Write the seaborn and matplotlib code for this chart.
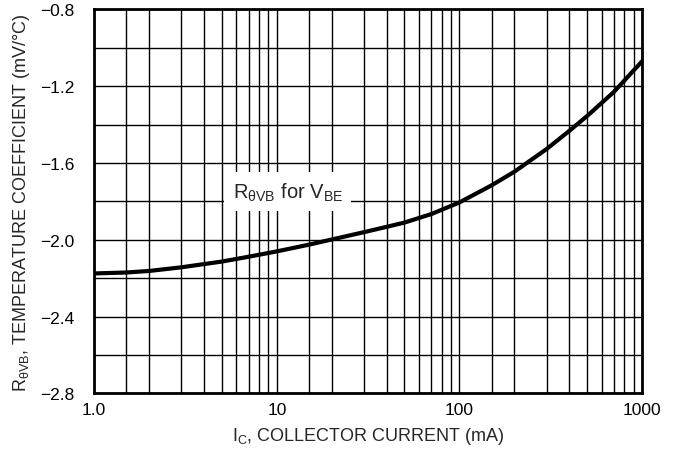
"""Temperature coefficient of V_BE versus collector current."""

import matplotlib
matplotlib.use("Agg")
import matplotlib.pyplot as plt
import numpy as np
import pandas as pd
import seaborn as sns
from matplotlib.ticker import FixedLocator, NullFormatter

# values
collector_current_ma = [1, 1.5, 2, 3, 5, 7, 10, 15, 20, 30, 40, 50, 70,
                        100, 150, 200, 300, 400, 500, 700, 1000]
temp_coeff_mv = [-2.175, -2.170, -2.162, -2.143, -2.113, -2.088, -2.060,
                 -2.025, -1.998, -1.960, -1.932, -1.910, -1.866, -1.805,
                 -1.716, -1.645, -1.527, -1.432, -1.355, -1.230, -1.070]

x_tick_values = [1, 10, 100, 1000]
x_tick_labels = ["1.0", "10", "100", "1000"]
y_tick_values = [-2.8, -2.4, -2.0, -1.6, -1.2, -0.8]
y_tick_labels = ["\u22122.8", "\u22122.4", "\u22122.0", "\u22121.6", "\u22121.2", "\u22120.8"]
grid_mantissas = [1, 1.5, 2, 3, 4, 5, 6, 7, 8, 9]

sns.set_style("white")
plt.rcParams["font.family"] = ["Liberation Sans Narrow", "Liberation Sans", "DejaVu Sans"]
plt.rcParams["mathtext.fontset"] = "custom"
plt.rcParams["mathtext.rm"] = "Liberation Sans"
plt.rcParams["mathtext.it"] = "Liberation Sans"

df = pd.DataFrame({"ic": collector_current_ma, "tc": temp_coeff_mv})

figure, ax = plt.subplots(figsize=(6.73, 4.56), dpi=100)
figure.subplots_adjust(left=0.140, right=0.954, bottom=0.135, top=0.977)

sns.lineplot(data=df, x="ic", y="tc", color="black", linewidth=3.0, ax=ax, zorder=3)

ax.set_xscale("log")
ax.set_xlim(1, 1000)
ax.set_ylim(-2.8, -0.8)

# grid lines every 1-2-3...9 per decade, and every 0.2 mV/°C
vgrid = [m * 10 ** d for d in range(3) for m in grid_mantissas] + [1000]
ax.xaxis.set_major_locator(FixedLocator(x_tick_values))
ax.set_xticklabels(x_tick_labels)
ax.xaxis.set_minor_locator(FixedLocator(vgrid))
ax.xaxis.set_minor_formatter(NullFormatter())
ax.set_yticks(y_tick_values)
ax.set_yticklabels(y_tick_labels)
ax.yaxis.set_minor_locator(FixedLocator(list(np.round(np.arange(-2.8, -0.79, 0.2), 1))))

ax.grid(True, which="both", color="black", linewidth=1.0)
ax.tick_params(which="both", length=0, labelsize=12.5, colors="black")
ax.tick_params(axis="y", pad=14)
ax.tick_params(axis="x", pad=6)

for side in ax.spines.values():
    side.set_color("black")
    side.set_linewidth(2.0)

ax.text(11.5, -1.75, "R$_{\\mathrm{θVB}}$ for V$_{\\mathrm{BE}}$",
        ha="center", va="center", fontsize=14.5, zorder=4,
        bbox=dict(facecolor="white", edgecolor="none", pad=6))

ax.set_xlabel("I$_{\\mathrm{C}}$, COLLECTOR CURRENT (mA)", fontsize=13, labelpad=6)
ax.set_ylabel("R$_{\\mathrm{θVB}}$, TEMPERATURE COEFFICIENT (mV/°C)",
              fontsize=13, labelpad=6)

figure.savefig("out.png", dpi=100)
plt.close(figure)
